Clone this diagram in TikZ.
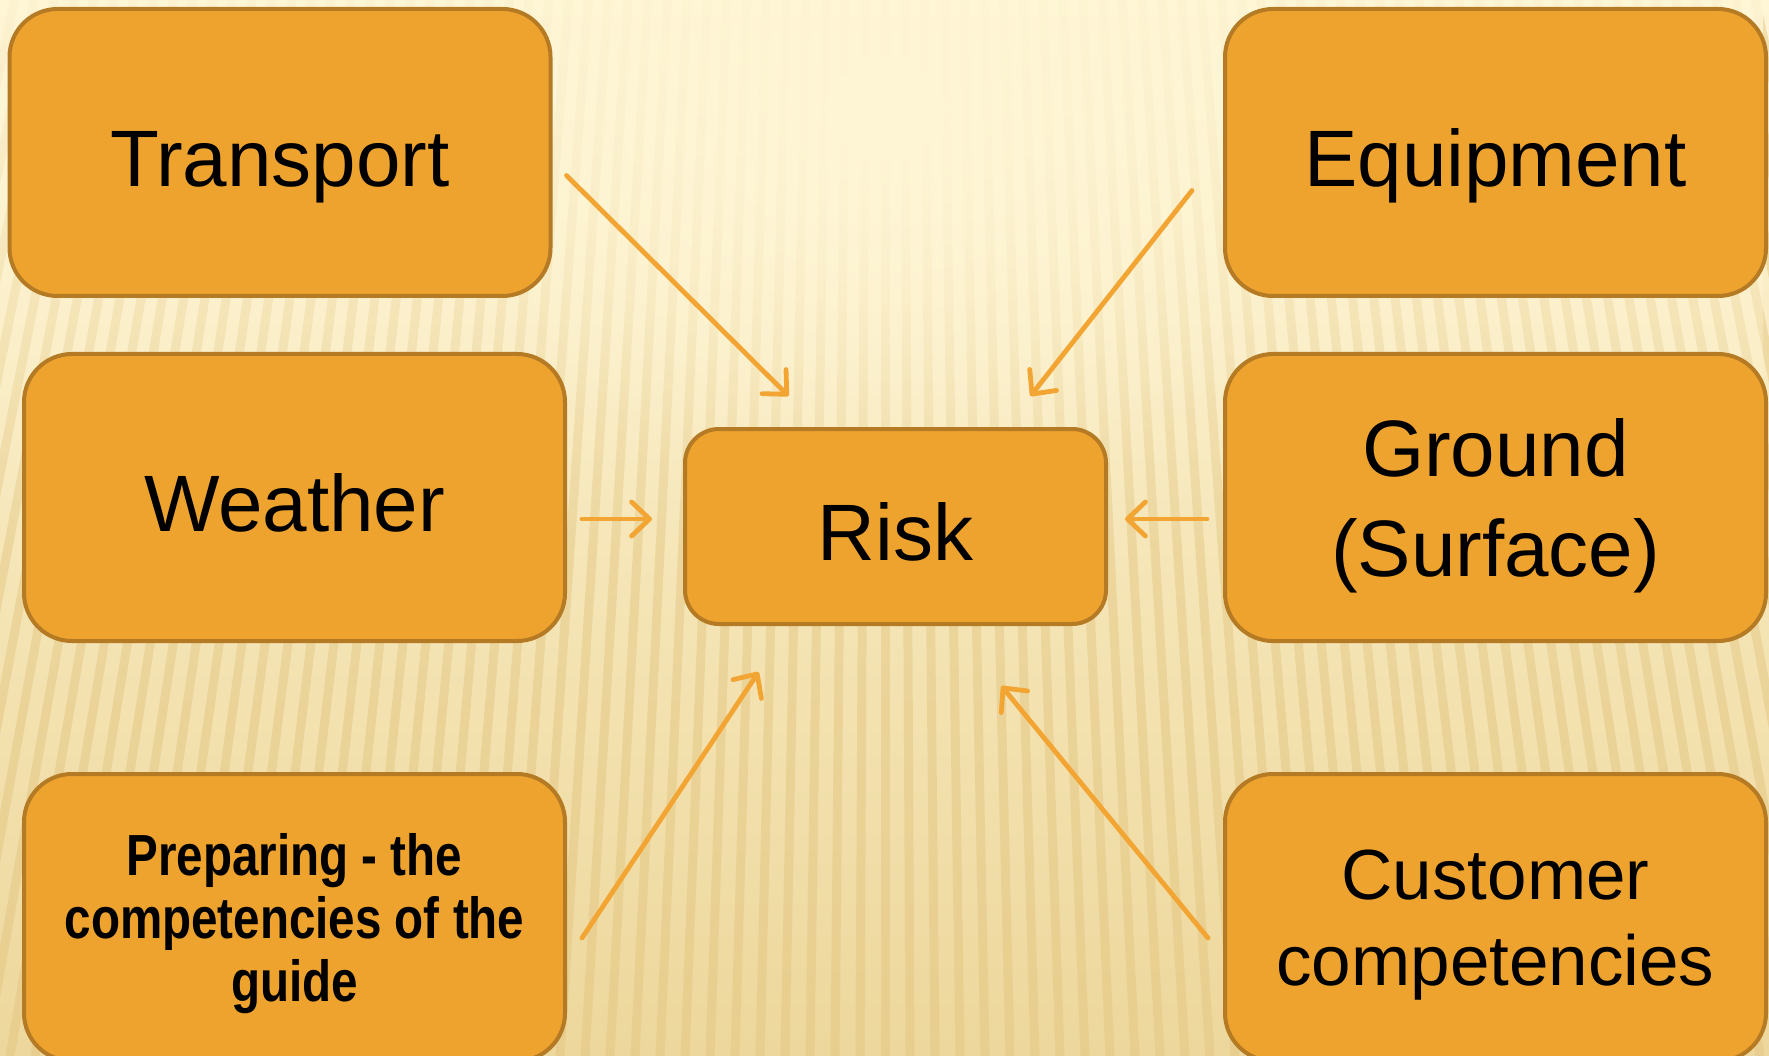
\documentclass[tikz,border=0pt]{standalone}
\usepackage{fontspec}
\setmainfont{Liberation Sans}
\newfontfamily\narrowbold[FakeStretch=0.82]{Liberation Sans}
\usetikzlibrary{arrows.meta,calc,fadings}
\definecolor{boxfill}{HTML}{EEA32F}
\definecolor{boxline}{HTML}{B57A24}
\definecolor{arrowcol}{HTML}{F2A533}
\definecolor{bgtop}{HTML}{FFF6D6}
\definecolor{bgbottom}{HTML}{EDD79C}
\definecolor{stripecol}{HTML}{E2C47E}
\tikzfading[name=fadetop, top color=transparent!0, bottom color=transparent!100]
\tikzfading[name=radfade, inner color=transparent!0, outer color=transparent!100]
\tikzset{
  box/.style={draw=boxline, fill=boxfill, line width=4pt, rounded corners=48pt,
    minimum width=541pt, minimum height=287pt, align=center, inner sep=0pt,
    text depth=0pt, font=\fontsize{80}{100}\selectfont},
  onebox/.style={box, text height=68pt},
  riskbox/.style={onebox, rounded corners=34pt, minimum width=421pt, minimum height=195pt},
  conn/.style={draw=arrowcol, line width=4.8pt, line cap=round,
    -{Straight Barb[length=18pt,width=34pt,line cap=round,line join=round]}}
}
\begin{document}
\begin{tikzpicture}[x=1pt,y=-1pt]
\useasboundingbox (0,0) rectangle (1769,1056);
\begin{scope}
\clip (0,0) rectangle (1769,1056);
\shade[top color=bgtop, bottom color=bgbottom] (0,0) rectangle (1769,1056);
\foreach \i in {-46,...,46}
  \draw[stripecol, line width=9pt, opacity=0.45] (885,-4000) -- ({885+25*\i},1056);
\fill[bgtop, path fading=fadetop, fill opacity=0.85] (0,0) rectangle (1769,560);
\fill[bgtop, path fading=radfade] (885,120) ellipse (520 and 380);
\end{scope}

\node[onebox] (T) at (280,152.5) {Transport};
\node[onebox] (E) at (1495.5,152.5) {Equipment};
\node[onebox] (W) at (294.5,497.5) {Weather};
\node[box] (G) at (1495.5,497.5) {Ground\\(Surface)};
\node[riskbox] (R) at (895.5,526.5) {Risk};
\node[box, font=\narrowbold\bfseries\fontsize{58}{63}\selectfont] (P) at (294.5,917.5)
  {Preparing - the\\competencies of the\\guide};
\node[box, font=\fontsize{71}{86}\selectfont] (C) at (1495.5,917.5)
  {Customer\\competencies};

\draw[conn] ($(T.east)+(14,23)$) -- ($(R.north)+(-107,-31)$);
\draw[conn] ($(E.west)+(-31,38)$) -- ($(R.north)+(135,-31)$);
\draw[conn] ($(W.east)+(15,21.5)$) -- ($(R.west)+(-31,-7.5)$);
\draw[conn] ($(G.west)+(-16,21.5)$) -- ($(R.east)+(17,-7.5)$);
\draw[conn] ($(P.east)+(15,20.5)$) -- ($(R.south)+(-137,46)$);
\draw[conn] ($(C.west)+(-15,20.5)$) -- ($(R.south)+(106,60)$);
\end{tikzpicture}
\end{document}
